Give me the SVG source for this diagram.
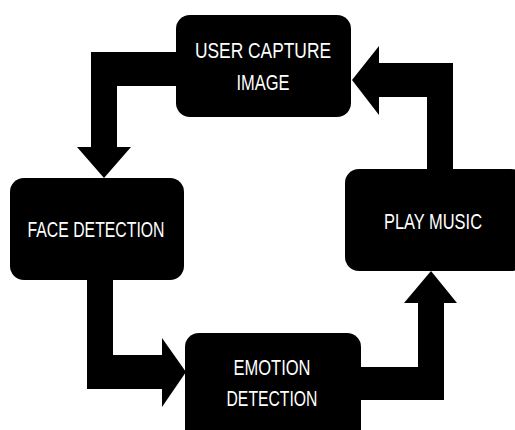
<svg xmlns="http://www.w3.org/2000/svg" width="515" height="430" viewBox="0 0 515 430">
<style>
.node{fill:#000}
.conn{fill:#000}
.lbl{fill:#fff;font-family:"Liberation Sans","DejaVu Sans",sans-serif;font-size:22px;text-anchor:middle}
</style>
<rect width="515" height="430" fill="#fff"/>
<g id="connectors">
<path class="conn" d="M177,52 L91,52 L91,147 L77,147 L104,178 L131,147 L117,147 L117,86 L177,86 Z"/>
<path class="conn" d="M87,279 L87,389 L162,389 L162,407 L186,372 L162,338 L162,355 L113,355 L113,279 Z"/>
<path class="conn" d="M360,367 L418,367 L418,303 L404,303 L431,271 L457,303 L444,303 L444,400 L360,400 Z"/>
<path class="conn" d="M427,171 L427,97 L379,97 L379,115 L352,80 L379,46 L379,63 L453,63 L453,171 Z"/>
</g>
<g id="user-capture-image">
<rect class="node" x="176" y="15" width="175" height="102" rx="14"/>
<text class="lbl" x="263" y="58" textLength="136" lengthAdjust="spacingAndGlyphs">USER CAPTURE</text>
<text class="lbl" x="263" y="90" textLength="53" lengthAdjust="spacingAndGlyphs">IMAGE</text>
</g>
<g id="face-detection">
<rect class="node" x="10" y="178" width="174" height="102" rx="14"/>
<text class="lbl" x="96" y="237" textLength="137" lengthAdjust="spacingAndGlyphs">FACE DETECTION</text>
</g>
<g id="emotion-detection">
<rect class="node" x="185" y="333" width="176" height="110" rx="14"/>
<text class="lbl" x="272" y="375" textLength="77" lengthAdjust="spacingAndGlyphs">EMOTION</text>
<text class="lbl" x="272" y="406" textLength="91" lengthAdjust="spacingAndGlyphs">DETECTION</text>
</g>
<g id="play-music">
<rect class="node" x="345" y="169" width="180" height="102" rx="14"/>
<text class="lbl" x="433" y="229" textLength="98" lengthAdjust="spacingAndGlyphs">PLAY MUSIC</text>
</g>
</svg>
